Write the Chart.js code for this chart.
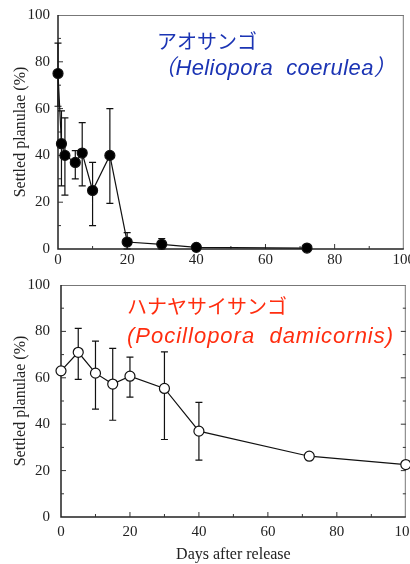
<!DOCTYPE html>
<html>
<head>
<meta charset="utf-8">
<script src="https://cdn.jsdelivr.net/npm/chart.js@4.4.1/dist/chart.umd.min.js"></script>
<style>
  html, body { margin: 0; padding: 0; background: #fff; overflow: hidden; width: 410px; height: 564px; }
  .box { position: absolute; left: 0; }
  .lbl { position: absolute; white-space: pre; line-height: 1; }
  .jp { font-family: "Noto Sans CJK JP", sans-serif; font-size: 20px; }
  .sci { font-family: "Liberation Sans", "Noto Sans CJK JP", sans-serif; font-style: italic; font-size: 22px; letter-spacing: 1px; }
</style>
</head>
<body>
<div class="box" style="top:0;width:410px;height:270px"><canvas id="topChart" width="410" height="270"></canvas></div>
<div class="box" style="top:270px;width:412px;height:294px"><canvas id="bottomChart" width="412" height="294"></canvas></div>

<div class="lbl jp" style="left:157px;top:31px;color:#1b34b4">アオサンゴ</div>
<div class="lbl sci" style="left:153px;top:57px;color:#1b34b4;letter-spacing:0.4px">（Heliopora  coerulea）</div>
<div class="lbl jp" style="left:127px;top:296px;color:#ff2d0f">ハナヤサイサンゴ</div>
<div class="lbl sci" style="left:127px;top:325px;color:#ff2d0f">(Pocillopora  damicornis)</div>

<script>
// Heliopora coerulea (top panel)
const topDays = [0, 1, 2, 5, 7, 10, 15, 20, 30, 40, 72];
const topSettled = [75, 45, 40, 37, 41, 25, 40, 3, 2, 0.7, 0.4];
const topErrHigh = [88, 59, 56, 42, 54, 37, 60, 7, 4.4, null, null];
const topErrLow = [61, 27, 23, 30, 27, 10, 19.5, 0, 0, null, null];

// Pocillopora damicornis (bottom panel)
const bottomDays = [0, 5, 10, 15, 20, 30, 40, 72, 100];
const bottomSettled = [63, 71, 62, 57.3, 60.7, 55.4, 37, 26.2, 22.6];
const bottomErrHigh = [null, 81.3, 75.8, 72.7, 68.9, 71.2, 49.4, null, null];
const bottomErrLow = [null, 59.3, 46.5, 41.7, 51.7, 33.4, 24.5, null, null];

const axisTicks = [0, 20, 40, 60, 80, 100];
const serif = "'Liberation Serif', 'DejaVu Serif', serif";

// error bars, frame and inward tick marks
const framePlugin = {
  id: 'frame',
  beforeDatasetsDraw(chart, args, opts) {
    const ctx = chart.ctx, a = chart.chartArea;
    const xs = chart.scales.x, ys = chart.scales.y;
    ctx.save();
    // frame
    ctx.strokeStyle = '#777';
    ctx.lineWidth = 1;
    ctx.beginPath();
    ctx.moveTo(a.left, a.top + 0.5); ctx.lineTo(a.right, a.top + 0.5);
    ctx.moveTo(a.right - 0.5, a.top); ctx.lineTo(a.right - 0.5, a.bottom);
    ctx.stroke();
    ctx.strokeStyle = '#222';
    ctx.lineWidth = 1.5;
    ctx.beginPath();
    ctx.moveTo(a.left, a.top); ctx.lineTo(a.left, a.bottom); ctx.lineTo(a.right, a.bottom);
    ctx.stroke();
    // inward ticks
    ctx.lineWidth = 1;
    ctx.strokeStyle = '#333';
    ctx.beginPath();
    for (let v = 10; v < 100; v += 10) {
      const len = v % 20 === 0 ? 5 : 3;
      const px = xs.getPixelForValue(v);
      ctx.moveTo(px, a.bottom); ctx.lineTo(px, a.bottom - len);
      const py = ys.getPixelForValue(v);
      ctx.moveTo(a.left, py); ctx.lineTo(a.left + len, py);
      if (opts.rightTicks) { ctx.moveTo(a.right, py); ctx.lineTo(a.right - len, py); }
    }
    ctx.stroke();
    // error bars
    ctx.strokeStyle = '#111';
    ctx.lineWidth = 1.2;
    ctx.beginPath();
    opts.days.forEach((d, i) => {
      const px = xs.getPixelForValue(d);
      [opts.high[i], opts.low[i]].forEach(e => {
        if (e === null) return;
        const py0 = ys.getPixelForValue(opts.vals[i]);
        const py = ys.getPixelForValue(e);
        ctx.moveTo(px, py0); ctx.lineTo(px, py);
        ctx.moveTo(px - 3.5, py); ctx.lineTo(px + 3.5, py);
      });
    });
    ctx.stroke();
    ctx.restore();
  }
};

function noEdgePadding(s) {
  s.paddingLeft = 0; s.paddingRight = 0; s.paddingTop = 0; s.paddingBottom = 0;
}

function makeChart(id, days, vals, high, low, fill, cfg) {
  return new Chart(document.getElementById(id), {
    type: 'line',
    data: {
      datasets: [{
        data: days.map((d, i) => ({ x: d, y: vals[i] })),
        borderColor: '#111',
        borderWidth: 1.2,
        pointRadius: 5,
        pointBorderWidth: 1.2,
        pointBackgroundColor: fill,
        pointBorderColor: '#111',
        tension: 0,
        clip: false
      }]
    },
    options: {
      responsive: false,
      animation: false,
      layout: { padding: { top: 15, right: cfg.padRight, left: 0, bottom: 0 } },
      plugins: {
        legend: { display: false },
        tooltip: { enabled: false },
        frame: { days, vals, high, low, rightTicks: cfg.rightTicks }
      },
      scales: {
        x: {
          type: 'linear', min: 0, max: 100,
          afterBuildTicks: s => { s.ticks = axisTicks.map(v => ({ value: v })); },
          grid: { display: false, drawTicks: false },
          border: { display: false },
          ticks: { padding: cfg.xPad, color: '#222', font: { family: serif, size: 15 } },
          title: cfg.xTitle ? { display: true, text: 'Days after release', color: '#222',
            font: { family: serif, size: 16 }, padding: { top: 0, bottom: 0 } } : { display: false },
          afterFit: s => { s.height = cfg.xHeight; noEdgePadding(s); }
        },
        y: {
          min: 0, max: 100,
          afterBuildTicks: s => { s.ticks = axisTicks.map(v => ({ value: v })); },
          grid: { display: false, drawTicks: false },
          border: { display: false },
          ticks: { padding: cfg.yPad, color: '#222', font: { family: serif, size: 15 } },
          title: { display: true, text: 'Settled planulae (%)', color: '#222',
            font: { family: serif, size: 16 }, padding: { top: 11, bottom: 0 } },
          afterFit: s => { s.width = cfg.yWidth; noEdgePadding(s); }
        }
      }
    },
    plugins: [framePlugin]
  });
}

makeChart('topChart', topDays, topSettled, topErrHigh, topErrLow, '#000',
  { padRight: 2, xHeight: 21, yWidth: 58, xPad: 2, yPad: 8, xTitle: false, rightTicks: false });
makeChart('bottomChart', bottomDays, bottomSettled, bottomErrHigh, bottomErrLow, '#fff',
  { padRight: 1, xHeight: 47, yWidth: 61, xPad: 6, yPad: 11, xTitle: true, rightTicks: true });
</script>
</body>
</html>
